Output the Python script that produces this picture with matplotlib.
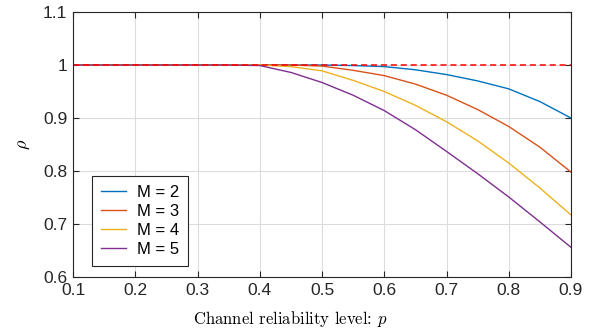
import matplotlib
matplotlib.use("Agg")
import matplotlib.pyplot as plt

plt.rcParams['mathtext.fontset'] = 'cm'
plt.rcParams['font.family'] = ['Liberation Sans', 'DejaVu Sans']

# values
p = [0.1, 0.35, 0.4, 0.45, 0.5, 0.55, 0.6, 0.65, 0.7, 0.75, 0.8, 0.85, 0.9]
rho_m2 = [1, 1, 1, 1, 1, 0.999, 0.997, 0.991, 0.982, 0.970, 0.955, 0.931, 0.900]
rho_m3 = [1, 1, 1, 1, 0.998, 0.990, 0.980, 0.964, 0.943, 0.916, 0.884, 0.845, 0.798]
rho_m4 = [1, 1, 1, 0.997, 0.989, 0.971, 0.950, 0.924, 0.893, 0.857, 0.815, 0.768, 0.717]
rho_m5 = [1, 1, 0.999, 0.986, 0.967, 0.943, 0.914, 0.878, 0.837, 0.795, 0.751, 0.704, 0.656]
labels = ['M = 2', 'M = 3', 'M = 4', 'M = 5']
colors = ['#0072BD', '#D95319', '#EDB120', '#7E2F8E']

fig = plt.figure(figsize=(6.05, 3.3), dpi=100)
ax = fig.add_axes([0.1207, 0.1606, 0.8231, 0.803])

for ys, lab, c in zip([rho_m2, rho_m3, rho_m4, rho_m5], labels, colors):
    ax.plot(p, ys, color=c, lw=1.0, label=lab)
ax.plot([0.1, 0.9], [1, 1], color='#ff0000', ls='--', lw=1.1, dashes=(4, 2.5))

ax.set_xlim(0.1, 0.9)
ax.set_ylim(0.6, 1.1)
ax.set_xticks([0.1, 0.2, 0.3, 0.4, 0.5, 0.6, 0.7, 0.8, 0.9])
ax.set_yticks([0.6, 0.7, 0.8, 0.9, 1.0, 1.1])
ax.set_yticklabels(['0.6', '0.7', '0.8', '0.9', '1', '1.1'])
ax.grid(True, color='#dcdcdc', lw=0.8)
ax.set_axisbelow(True)
ax.tick_params(direction='in', top=True, right=True, labelsize=12.5,
               colors='#262626', length=4, width=0.8, pad=4)
for s in ax.spines.values():
    s.set_color('#262626')
    s.set_linewidth(0.8)

ax.set_xlabel('Channel reliability level: $p$', fontsize=12, family='cmr10')
ax.xaxis.set_label_coords(0.437, -0.12)
ax.set_ylabel(r'$\rho$', fontsize=13)
ax.yaxis.set_label_coords(-0.082, 0.5)

leg = ax.legend(loc='lower left', bbox_to_anchor=(0.038, 0.04), fontsize=12,
                fancybox=False, framealpha=1, edgecolor='#262626',
                handlelength=1.5, handletextpad=0.65, borderpad=0.55,
                labelspacing=0.25, borderaxespad=0)
leg.get_frame().set_linewidth(0.8)

plt.savefig('out.png', dpi=100)
